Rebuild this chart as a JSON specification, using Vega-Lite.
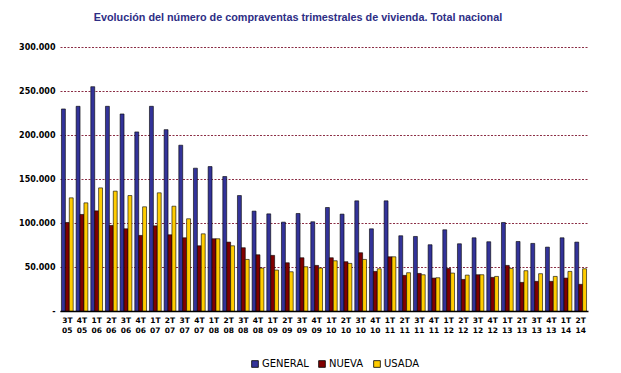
{
  "$schema": "https://vega.github.io/schema/vega-lite/v6.json",
  "width": 528,
  "height": 264,
  "autosize": {"type": "none"},
  "padding": {"left": 60, "top": 47, "right": 33, "bottom": 62},
  "background": "white",
  "title": {
    "text": "Evolución del número de compraventas trimestrales de vivienda. Total nacional",
    "font": "Liberation Sans",
    "fontSize": 10.8,
    "fontWeight": "bold",
    "color": "#2E2E85",
    "anchor": "middle",
    "dx": -26,
    "offset": 20
  },
  "data": {
    "values": [
      {"p":"3T 05","s":"GENERAL","v":229600},{"p":"3T 05","s":"NUEVA","v":100600},{"p":"3T 05","s":"USADA","v":128600},
      {"p":"4T 05","s":"GENERAL","v":232600},{"p":"4T 05","s":"NUEVA","v":109700},{"p":"4T 05","s":"USADA","v":122900},
      {"p":"1T 06","s":"GENERAL","v":254900},{"p":"1T 06","s":"NUEVA","v":113800},{"p":"1T 06","s":"USADA","v":139900},
      {"p":"2T 06","s":"GENERAL","v":232600},{"p":"2T 06","s":"NUEVA","v":97200},{"p":"2T 06","s":"USADA","v":136200},
      {"p":"3T 06","s":"GENERAL","v":223900},{"p":"3T 06","s":"NUEVA","v":93400},{"p":"3T 06","s":"USADA","v":131200},
      {"p":"4T 06","s":"GENERAL","v":203500},{"p":"4T 06","s":"NUEVA","v":85900},{"p":"4T 06","s":"USADA","v":118400},
      {"p":"1T 07","s":"GENERAL","v":232600},{"p":"1T 07","s":"NUEVA","v":96800},{"p":"1T 07","s":"USADA","v":134300},
      {"p":"2T 07","s":"GENERAL","v":206100},{"p":"2T 07","s":"NUEVA","v":86600},{"p":"2T 07","s":"USADA","v":119100},
      {"p":"3T 07","s":"GENERAL","v":188400},{"p":"3T 07","s":"NUEVA","v":83200},{"p":"3T 07","s":"USADA","v":104800},
      {"p":"4T 07","s":"GENERAL","v":162300},{"p":"4T 07","s":"NUEVA","v":74100},{"p":"4T 07","s":"USADA","v":87700},
      {"p":"1T 08","s":"GENERAL","v":164100},{"p":"1T 08","s":"NUEVA","v":82100},{"p":"1T 08","s":"USADA","v":82100},
      {"p":"2T 08","s":"GENERAL","v":152800},{"p":"2T 08","s":"NUEVA","v":78300},{"p":"2T 08","s":"USADA","v":74100},
      {"p":"3T 08","s":"GENERAL","v":131200},{"p":"3T 08","s":"NUEVA","v":71900},{"p":"3T 08","s":"USADA","v":58600},
      {"p":"4T 08","s":"GENERAL","v":113500},{"p":"4T 08","s":"NUEVA","v":63900},{"p":"4T 08","s":"USADA","v":48800},
      {"p":"1T 09","s":"GENERAL","v":110400},{"p":"1T 09","s":"NUEVA","v":63200},{"p":"1T 09","s":"USADA","v":46500},
      {"p":"2T 09","s":"GENERAL","v":101000},{"p":"2T 09","s":"NUEVA","v":54800},{"p":"2T 09","s":"USADA","v":44600},
      {"p":"3T 09","s":"GENERAL","v":110800},{"p":"3T 09","s":"NUEVA","v":60500},{"p":"3T 09","s":"USADA","v":50300},
      {"p":"4T 09","s":"GENERAL","v":101400},{"p":"4T 09","s":"NUEVA","v":51800},{"p":"4T 09","s":"USADA","v":48800},
      {"p":"1T 10","s":"GENERAL","v":117600},{"p":"1T 10","s":"NUEVA","v":60500},{"p":"1T 10","s":"USADA","v":57100},
      {"p":"2T 10","s":"GENERAL","v":110100},{"p":"2T 10","s":"NUEVA","v":56000},{"p":"2T 10","s":"USADA","v":54100},
      {"p":"3T 10","s":"GENERAL","v":125200},{"p":"3T 10","s":"NUEVA","v":66200},{"p":"3T 10","s":"USADA","v":58600},
      {"p":"4T 10","s":"GENERAL","v":93400},{"p":"4T 10","s":"NUEVA","v":45000},{"p":"4T 10","s":"USADA","v":48000},
      {"p":"1T 11","s":"GENERAL","v":125200},{"p":"1T 11","s":"NUEVA","v":61600},{"p":"1T 11","s":"USADA","v":61600},
      {"p":"2T 11","s":"GENERAL","v":85500},{"p":"2T 11","s":"NUEVA","v":40500},{"p":"2T 11","s":"USADA","v":43500},
      {"p":"3T 11","s":"GENERAL","v":84700},{"p":"3T 11","s":"NUEVA","v":42700},{"p":"3T 11","s":"USADA","v":41200},
      {"p":"4T 11","s":"GENERAL","v":75300},{"p":"4T 11","s":"NUEVA","v":37400},{"p":"4T 11","s":"USADA","v":37800},
      {"p":"1T 12","s":"GENERAL","v":92300},{"p":"1T 12","s":"NUEVA","v":48400},{"p":"1T 12","s":"USADA","v":43100},
      {"p":"2T 12","s":"GENERAL","v":76400},{"p":"2T 12","s":"NUEVA","v":35900},{"p":"2T 12","s":"USADA","v":40800},
      {"p":"3T 12","s":"GENERAL","v":83200},{"p":"3T 12","s":"NUEVA","v":41200},{"p":"3T 12","s":"USADA","v":41200},
      {"p":"4T 12","s":"GENERAL","v":78700},{"p":"4T 12","s":"NUEVA","v":38200},{"p":"4T 12","s":"USADA","v":39300},
      {"p":"1T 13","s":"GENERAL","v":100600},{"p":"1T 13","s":"NUEVA","v":51800},{"p":"1T 13","s":"USADA","v":48400},
      {"p":"2T 13","s":"GENERAL","v":79000},{"p":"2T 13","s":"NUEVA","v":32500},{"p":"2T 13","s":"USADA","v":45800},
      {"p":"3T 13","s":"GENERAL","v":76800},{"p":"3T 13","s":"NUEVA","v":33700},{"p":"3T 13","s":"USADA","v":42400},
      {"p":"4T 13","s":"GENERAL","v":72600},{"p":"4T 13","s":"NUEVA","v":33700},{"p":"4T 13","s":"USADA","v":39300},
      {"p":"1T 14","s":"GENERAL","v":83200},{"p":"1T 14","s":"NUEVA","v":37400},{"p":"1T 14","s":"USADA","v":45000},
      {"p":"2T 14","s":"GENERAL","v":78300},{"p":"2T 14","s":"NUEVA","v":30300},{"p":"2T 14","s":"USADA","v":48000}
    ]
  },
  "mark": {"type": "bar", "stroke": "black", "strokeWidth": 0.6},
  "encoding": {
    "x": {
      "field": "p",
      "type": "nominal",
      "sort": null,
      "title": null,
      "scale": {"paddingInner": 0.2, "paddingOuter": 0.1},
      "axis": {
        "labelAngle": 0,
        "labelExpr": "split(datum.value, ' ')",
        "labelFont": "DejaVu Sans",
        "labelFontWeight": "bold",
        "labelFontSize": 7.5,
        "labelColor": "black",
        "labelLineHeight": 10,
        "labelPadding": 5,
        "ticks": false,
        "domainColor": "black",
        "domainWidth": 1.5,
        "grid": false
      }
    },
    "xOffset": {"field": "s", "type": "nominal"},
    "y": {
      "field": "v",
      "type": "quantitative",
      "title": null,
      "scale": {"domain": [0, 300000], "nice": false},
      "axis": {
        "values": [0, 50000, 100000, 150000, 200000, 250000, 300000],
        "labelExpr": "datum.value == 0 ? '-' : format(datum.value / 1000, 'd') + '.000'",
        "labelFont": "DejaVu Sans",
        "labelFontWeight": "bold",
        "labelFontSize": 8,
        "labelColor": "black",
        "labelPadding": 5,
        "ticks": false,
        "domain": false,
        "grid": true,
        "gridColor": "#8B2E45",
        "gridDash": [2, 1.5],
        "gridWidth": 1
      }
    },
    "color": {
      "field": "s",
      "type": "nominal",
      "scale": {"domain": ["GENERAL", "NUEVA", "USADA"], "range": ["#333399", "#800000", "#FFCC00"]},
      "legend": {
        "title": null,
        "orient": "none",
        "direction": "horizontal",
        "legendX": 190,
        "legendY": 312,
        "symbolType": "square",
        "symbolSize": 45,
        "symbolStrokeColor": "black",
        "symbolStrokeWidth": 0.8,
        "symbolOpacity": 1,
        "labelFont": "DejaVu Sans",
        "labelFontSize": 10,
        "labelColor": "black",
        "labelOffset": 2,
        "columnPadding": 8
      }
    }
  },
  "config": {"view": {"stroke": null}}
}
